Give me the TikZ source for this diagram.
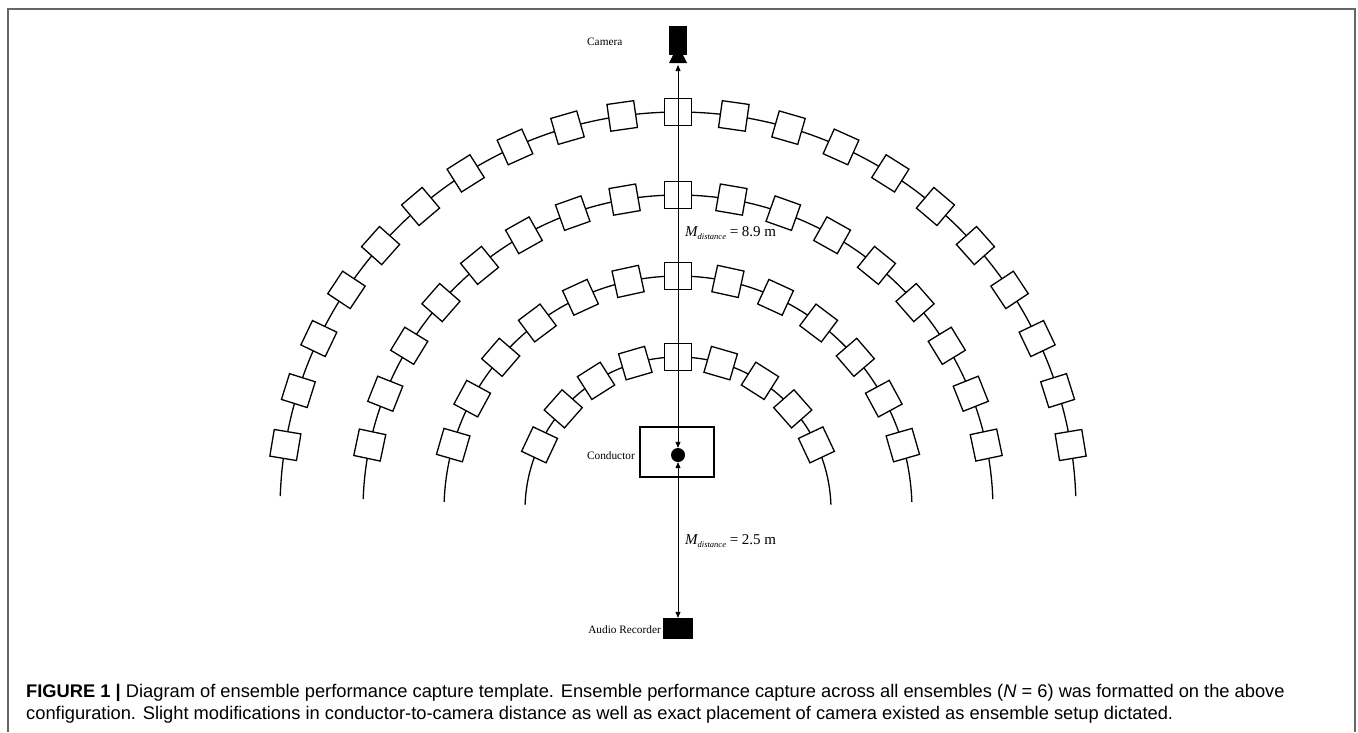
\documentclass[tikz,border=0pt]{standalone}
\usepackage{fontspec}
\setmainfont{Liberation Serif}
\newfontfamily\capfont{Liberation Sans}
\usetikzlibrary{arrows.meta,calc}

\tikzset{
  seat/.style={draw, fill=white, line width=1.3pt, minimum size=27pt, inner sep=0pt},
  lbl/.style={font=\fontsize{11.3}{13}\selectfont, inner sep=0pt},
  captxt/.style={anchor=base west, inner sep=0pt, font=\capfont\fontsize{18.3}{22}\selectfont},
  dist/.style={{Triangle[length=6pt,width=5pt]}-{Triangle[length=6pt,width=5pt]}, line width=0.7pt}
}
\newcommand{\mdist}[1]{{\fontsize{15}{17}\selectfont\itshape M}\raisebox{-0.55ex}{\fontsize{8.5}{9}\selectfont\itshape distance}{\fontsize{15}{17}\selectfont\ = #1 m}}

\begin{document}
\begin{tikzpicture}[x=1pt, y=-1pt]
\useasboundingbox (0,0) rectangle (1358,732);
% frame
\draw[gray!80!black, line width=1.5pt] (8,732) -- (8,9) -- (1355,9) -- (1355,732);
% rings of seats
\coordinate (c) at (678,510);
\foreach \R/\n/\a in {398/21/9.4, 315/17/11.9, 234/13/16.1, 153/9/25.2} {
  \draw[line width=1.3pt] ($(c)+(-2:\R)$) arc[start angle=-2, end angle=-178, radius=\R];
  \pgfmathsetmacro{\st}{(180-2*\a)/(\n-1)}
  \foreach \i in {1,...,\n} {
    \pgfmathsetmacro{\ang}{\a+(\i-1)*\st}
    \node[seat, rotate=\ang-90] at ($(c)+(-\ang:\R)$) {};
  }
}
% conductor
\node[draw, line width=1.3pt, minimum width=74pt, minimum height=50pt, inner sep=0pt] (podium) at (677,452) {};
\node[circle, fill=black, minimum size=14pt, inner sep=0pt] (cond) at (678,455) {};
\node[lbl, anchor=east] at (635,456) {Conductor};
% camera
\fill (669,26) rectangle (687,55);
\fill (673,55) -- (683,55) -- (687,63) -- (669,63) -- cycle;
\coordinate (cam) at (678,65);
\node[lbl, anchor=west] at (587,42) {Camera};
% audio recorder
\node[fill=black, minimum width=30pt, minimum height=21pt, inner sep=0pt] (rec) at (678,628.5) {};
\node[lbl, anchor=east] (reclbl) at (661,630) {Audio Recorder};
% distances
\draw[dist] (cond.north) -- (cam);
\draw[dist] (cond.south) -- (rec.north);
\node[anchor=west, inner sep=0pt] at (685,233) {\mdist{8.9}};
\node[anchor=west, inner sep=0pt] at (685,541) {\mdist{2.5}};
% caption
\node[captxt] at (26,697) {\textbf{FIGURE 1 |} Diagram of ensemble performance capture template. Ensemble performance capture across all ensembles ({\itshape N} = 6) was formatted on the above};
\node[captxt] at (26,719) {configuration. Slight modifications in conductor-to-camera distance as well as exact placement of camera existed as ensemble setup dictated.};
\end{tikzpicture}
\end{document}
